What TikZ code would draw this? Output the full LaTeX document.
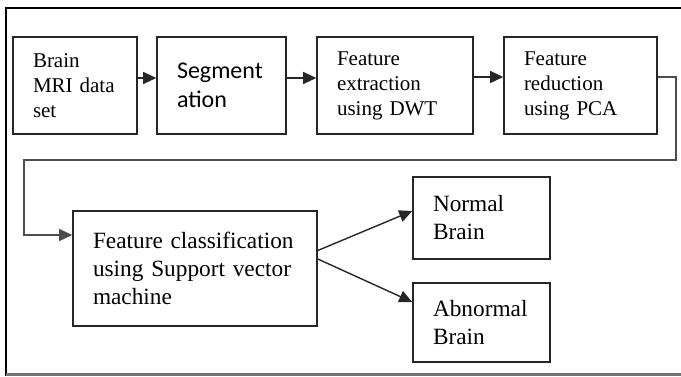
\documentclass[tikz,border=0pt]{standalone}
\usepackage{fontspec}
\setmainfont{Liberation Serif}
\newfontfamily\calibrifont{Carlito}
\usetikzlibrary{arrows.meta,positioning}
\tikzset{
  flow/.style={-{Triangle[length=13pt,width=12pt]},line width=1.4pt,black!85},
  stage/.style={draw=black!85,line width=1.6pt,inner xsep=20pt,inner ysep=0pt,align=left,
                font=\fontsize{21}{25}\selectfont},
  bigstage/.style={stage,font=\fontsize{23.3}{28}\selectfont},
}
\begin{document}
\begin{tikzpicture}[x=1pt,y=-1pt]
  \path[use as bounding box] (0,0) rectangle (681,376);
  % outer frame (no right side)
  \draw[black,line width=2.8pt] (681,8) -- (6,8) -- (6,376);
  \draw[black!55,line width=2.2pt] (6,374.5) -- (681,374.5);

  \node[stage,text width=84pt,minimum height=97pt] (MRI) at (75,85.5)
    {Brain\\MRI data\\set};
  \node[stage,text width=89pt,minimum height=97pt,font=\calibrifont\fontsize{24}{29}\selectfont] (SEG) at (221.5,85.5)
    {Segment\\ation};
  \node[stage,text width=116pt,minimum height=97pt] (DWT) at (395,85.5)
    {Feature\\extraction\\using DWT};
  \node[stage,text width=113pt,minimum height=97pt] (PCA) at (580.5,85.5)
    {Feature\\reduction\\using PCA};
  \draw[flow] ([yshift=7.5pt]MRI.east) -- ([yshift=7.5pt]SEG.west);
  \draw[flow] ([yshift=7.5pt]SEG.east) -- ([yshift=7.5pt]DWT.west);
  \draw[flow] ([yshift=8.5pt]DWT.east) -- ([yshift=8.5pt]PCA.west);

  \node[bigstage,text width=204pt,minimum height=115pt] (SVM) at (195,268.5)
    {Feature classification\\using Support vector\\machine};
  \node[bigstage,text width=97pt,minimum height=82pt] (NOR) at (481.5,218)
    {Normal\\Brain};
  \node[bigstage,text width=97pt,minimum height=79pt] (ABN) at (481.5,322.5)
    {Abnormal\\Brain};

  \draw[flow,black!70] ([yshift=8.5pt]PCA.east) -| (676,160) -| (24,235)
    -- ([yshift=33.5pt]SVM.west);
  \draw[flow] ([yshift=18pt]SVM.east) -- ([yshift=7pt]NOR.west);
  \draw[flow] ([yshift=9.5pt]SVM.east) -- ([yshift=20.5pt]ABN.west);
\end{tikzpicture}
\end{document}
